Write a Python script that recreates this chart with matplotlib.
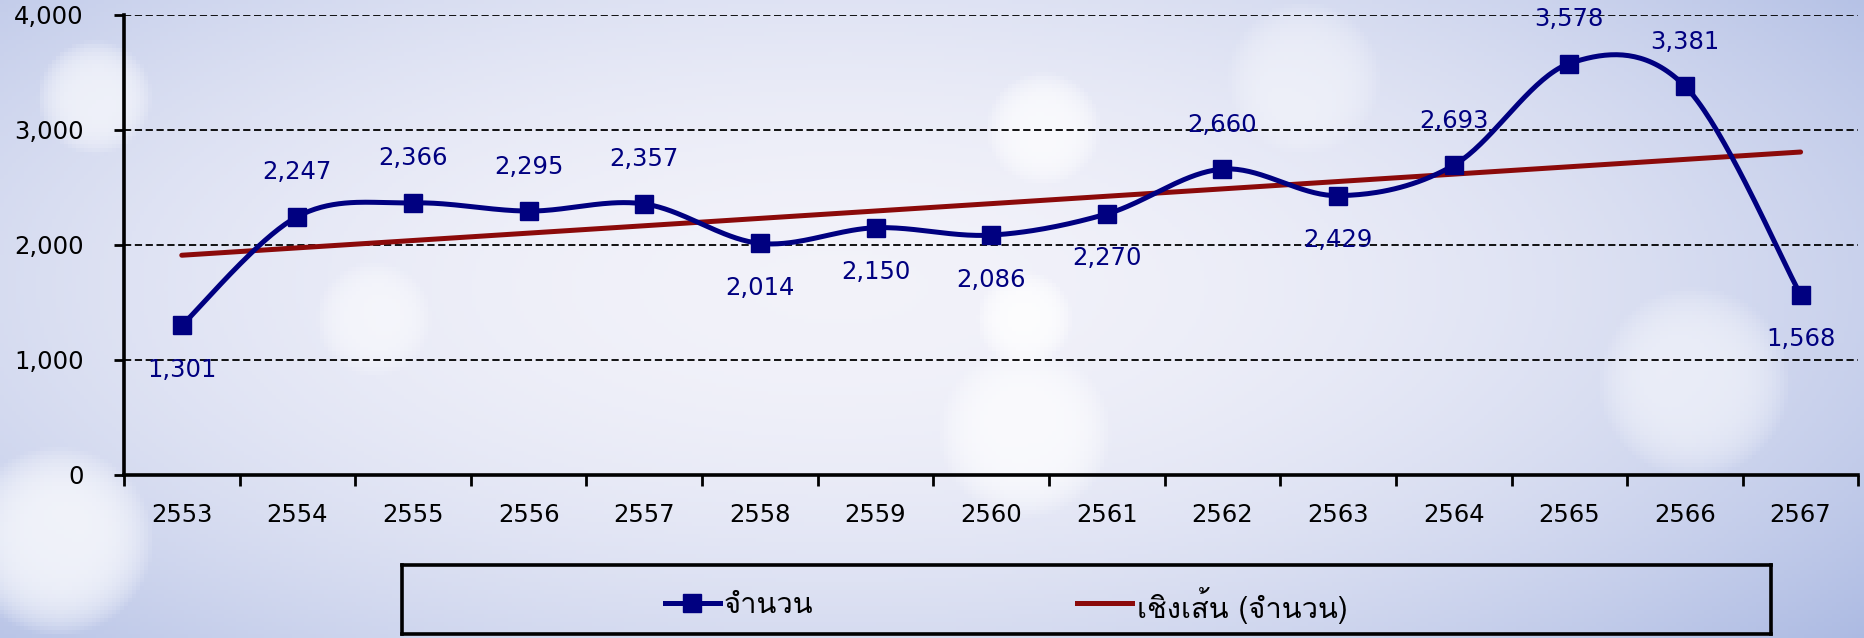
import matplotlib
matplotlib.use('Agg')
import matplotlib.pyplot as plt
import numpy as np
from matplotlib import font_manager
from matplotlib.ft2font import FT2Font

years = ['2553', '2554', '2555', '2556', '2557', '2558', '2559', '2560',
         '2561', '2562', '2563', '2564', '2565', '2566', '2567']
counts = [1301, 2247, 2366, 2295, 2357, 2014, 2150, 2086,
          2270, 2660, 2429, 2693, 3578, 3381, 1568]
# label above (+1) or below (-1) the point
label_side = [-1, 1, 1, 1, 1, -1, -1, -1, -1, 1, -1, 1, 1, 1, -1]
series_name = 'จำนวน'
trend_name = 'เชิงเส้น (จำนวน)'

NAVY = '#000080'
DARKRED = '#8b0a0a'


def thai_font():
    # find an installed family that has Thai glyphs
    for f in font_manager.fontManager.ttflist:
        try:
            if ord('จ') in FT2Font(f.fname).get_charmap():
                return f.name
        except Exception:
            pass
    return 'DejaVu Sans'


def smooth(x, y, n=40):
    # excel style smoothed line (bezier through the points)
    x = np.asarray(x, float)
    y = np.asarray(y, float)
    px = np.concatenate([[x[0]], x, [x[-1]]])
    py = np.concatenate([[y[0]], y, [y[-1]]])
    t = np.linspace(0, 1, n)
    xs, ys = [], []
    for i in range(len(x) - 1):
        p0 = np.array([px[i + 1], py[i + 1]])
        p3 = np.array([px[i + 2], py[i + 2]])
        c1 = p0 + (p3 - np.array([px[i], py[i]])) / 6
        c2 = p3 - (np.array([px[i + 3], py[i + 3]]) - p0) / 6
        b = ((1 - t) ** 3)[:, None] * p0 + (3 * (1 - t) ** 2 * t)[:, None] * c1 \
            + (3 * (1 - t) * t ** 2)[:, None] * c2 + (t ** 3)[:, None] * p3
        xs.append(b[:, 0])
        ys.append(b[:, 1])
    return np.concatenate(xs), np.concatenate(ys)


def background(w=466, h=160):
    yy, xx = np.mgrid[0:h, 0:w]
    u = xx / (w - 1)
    v = yy / (h - 1)
    d = np.sqrt(((u - 0.45) / 0.75) ** 2 + ((v - 0.45) / 0.9) ** 2)
    k = np.clip(d, 0, 1) ** 2
    img = np.zeros((h, w, 3))
    img[..., 0] = 0.95 - 0.30 * k
    img[..., 1] = 0.95 - 0.24 * k
    img[..., 2] = 0.98 - 0.10 * k
    # soft bokeh spots
    for cx, cy, r, a in [(0.03, 0.85, 0.05, 0.7), (0.05, 0.15, 0.03, 0.6),
                         (0.56, 0.2, 0.03, 0.7), (0.55, 0.5, 0.025, 0.8),
                         (0.55, 0.68, 0.045, 0.7), (0.91, 0.6, 0.05, 0.5),
                         (0.7, 0.12, 0.04, 0.4), (0.2, 0.5, 0.03, 0.5)]:
        rr = np.sqrt(((u - cx) * w / h) ** 2 + (v - cy) ** 2)
        m = a * np.clip(1 - (rr / (r * 3.0)) ** 4, 0, 1)
        img = img * (1 - m[..., None]) + m[..., None]
    return np.clip(img, 0, 1)


tfont = thai_font()
plt.rcParams['font.family'] = ['DejaVu Sans', tfont]

fig = plt.figure(figsize=(18.64, 6.38), dpi=100)
bg = fig.add_axes([0, 0, 1, 1], zorder=-5)
bg.imshow(background(), aspect='auto', extent=[0, 1, 0, 1])
bg.axis('off')

ax = fig.add_axes([0.0665, 0.2555, 0.9305, 0.721])
ax.patch.set_alpha(0)

x = np.arange(len(years)) + 0.5
sx, sy = smooth(x, counts)
ax.plot(sx, sy, color=NAVY, lw=3.6, solid_capstyle='round', zorder=3)
ax.plot(x, counts, ls='none', marker='s', ms=13.5, color=NAVY, zorder=4)

coef = np.polyfit(np.arange(1, len(counts) + 1), counts, 1)
trend = np.polyval(coef, np.arange(1, len(counts) + 1))
ax.plot(x, trend, color=DARKRED, lw=3.6, solid_capstyle='round', zorder=2)

for xi, v, s in zip(x, counts, label_side):
    ax.annotate(f'{v:,}', (xi, v), xytext=(0, 32 * s), textcoords='offset points',
                ha='center', va='center', color=NAVY, fontsize=17.5)

ax.set_xlim(0, len(years))
ax.set_ylim(0, 4000)
yt = [0, 1000, 2000, 3000, 4000]
ax.set_yticks(yt)
ax.set_yticklabels([f'{t:,}' for t in yt], fontsize=17.5)
ax.set_xticks(np.arange(len(years) + 1))
ax.set_xticklabels([])
ax.set_xticks(x, minor=True)
ax.set_xticklabels(years, minor=True, fontsize=17.5)
ax.tick_params(axis='x', which='major', length=8, width=2, direction='out')
ax.tick_params(axis='x', which='minor', length=0, pad=20)
ax.tick_params(axis='y', length=7, width=2, direction='out', pad=22)

for g in yt[1:]:
    ax.axhline(g, color='black', lw=1.3, ls=(0, (4, 2)), zorder=1)
for side in ['top', 'right']:
    ax.spines[side].set_visible(False)
for side in ['left', 'bottom']:
    ax.spines[side].set_linewidth(2.6)

# legend box
lax = fig.add_axes([0.2157, 0.006, 0.7345, 0.108])
lax.set_xlim(0, 1)
lax.set_ylim(0, 1)
lax.set_xticks([])
lax.set_yticks([])
lax.patch.set_alpha(0)
for s in lax.spines.values():
    s.set_linewidth(2.6)
lax.plot([0.192, 0.232], [0.45, 0.45], color=NAVY, lw=3.6)
lax.plot([0.212], [0.45], marker='s', ms=13.5, color=NAVY)
lax.text(0.235, 0.42, series_name, va='center', ha='left', fontsize=21,
         fontfamily=[tfont, 'DejaVu Sans'])
lax.plot([0.493, 0.533], [0.45, 0.45], color=DARKRED, lw=3.6)
lax.text(0.537, 0.42, trend_name, va='center', ha='left', fontsize=21,
         fontfamily=[tfont, 'DejaVu Sans'])

plt.savefig('out.png', dpi=100)
